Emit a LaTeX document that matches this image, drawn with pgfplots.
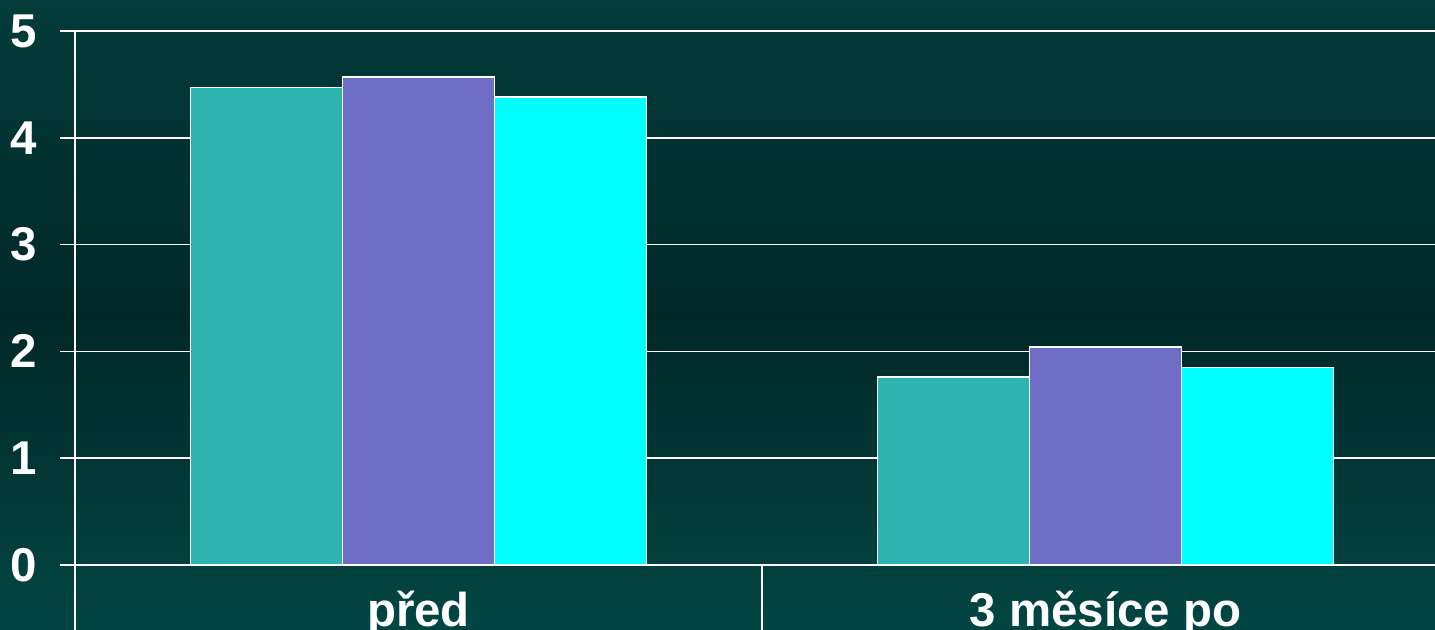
\documentclass[border=0pt]{standalone}
\usepackage{pgfplots}
\pgfplotsset{compat=1.18}
\usepackage{fontspec}
\setmainfont{Liberation Sans}
\definecolor{bgtop}{RGB}{3,60,58}
\definecolor{bgmid}{RGB}{1,40,40}
\definecolor{bgbot}{RGB}{2,70,67}
\definecolor{cA}{RGB}{46,180,176}
\definecolor{cB}{RGB}{110,110,198}
\definecolor{cC}{RGB}{0,255,255}
\begin{document}
\begin{tikzpicture}
\useasboundingbox (0,0) rectangle (143.5mm,63mm);
\shade[top color=bgtop, bottom color=bgbot, middle color=bgmid] (0,0) rectangle (143.5mm,63mm);
\clip (0,0) rectangle (143.5mm,63mm);
\begin{axis}[
  at={(7.5mm,6.5mm)}, anchor=south west,
  width=137.4mm, height=53.4mm, scale only axis,
  xmin=-0.5, xmax=1.5, ymin=0, ymax=5,
  ybar=0pt, bar width=0.2213,
  xtick={0,1}, xticklabels={před, 3 měsíce po},
  ytick={0,1,2,3,4,5},
  major tick length=1.5mm, tick align=outside,
  xtick style={draw=none},
  ytick style={white, line width=0.15mm},
  axis lines*=left,
  axis line style={white, line width=0.15mm, -},
  ymajorgrids, grid style={white, line width=0.15mm},
  /pgf/number format/assume math mode=true,
  tick label style={font=\fontsize{13.5}{15}\selectfont\bfseries, text=white},
  yticklabel style={anchor=east, inner sep=0pt, xshift=-2.2mm},
  xticklabel style={anchor=base, inner sep=0pt, yshift=-4.7mm},
  clip=false,
]
\addplot[fill=cA, draw=white, line width=0.15mm] coordinates {(0,4.47) (1,1.76)};
\addplot[fill=cB, draw=white, line width=0.15mm] coordinates {(0,4.57) (1,2.04)};
\addplot[fill=cC, draw=white, line width=0.15mm] coordinates {(0,4.38) (1,1.85)};
\draw[white, line width=0.15mm] (axis cs:-0.5,0) -- ([yshift=-6.6mm]axis cs:-0.5,0);
\draw[white, line width=0.15mm] (axis cs:0.5,0) -- ([yshift=-6.6mm]axis cs:0.5,0);
\draw[white, line width=0.15mm] (axis cs:1.5,0) -- ([yshift=-6.6mm]axis cs:1.5,0);
\end{axis}
\end{tikzpicture}
\end{document}
